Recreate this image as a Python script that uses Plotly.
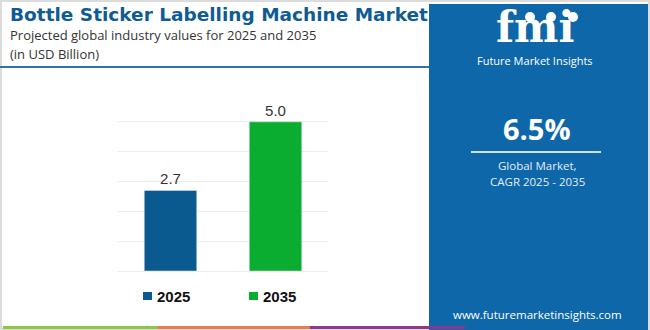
import plotly.graph_objects as go

# Market values (USD Billion)
years = ["2025", "2035"]
values = [2.7, 5.0]
bar_colors = ["#0b5a8f", "#0aad2f"]

title = "Bottle Sticker Labelling Machine Market"
subtitle = "Projected global industry values for 2025 and 2035"
unit_note = "(in USD Billion)"
cagr = "6.5%"
cagr_label = ["Global Market,", "CAGR 2025 - 2035"]
website = "www.futuremarketinsights.com"

W, H = 650, 330


def px(x):
    return x / W


def py(y):
    return 1 - y / H


fig = go.Figure()
for yr, val, col in zip(years, values, bar_colors):
    fig.add_trace(go.Bar(
        x=[yr], y=[val], name=yr, marker_color=col, width=0.5,
        text=[f"{val:.1f}"], textposition="outside", cliponaxis=False,
        textfont=dict(family="Liberation Sans, Arial", size=15, color="#333333"),
        showlegend=False,
    ))

shapes = []
annotations = []


def note(x, y, text, size, color, family="Open Sans", anchor="center"):
    annotations.append(dict(x=px(x), y=py(y), xref="paper", yref="paper", text=text,
                            showarrow=False, xanchor=anchor, yanchor="middle", borderpad=0,
                            font=dict(family=family, size=size, color=color)))


# outer frame
shapes.append(dict(type="rect", xref="paper", yref="paper", x0=px(1), x1=px(649),
                   y0=py(329), y1=py(1), line=dict(color="#dcdcdc", width=2), layer="below"))

# right-hand brand panel
shapes.append(dict(type="rect", xref="paper", yref="paper", x0=px(429), x1=px(648),
                   y0=0, y1=py(4), fillcolor="#0e67a8", line=dict(width=0), layer="below"))

# header rule
shapes.append(dict(type="line", xref="paper", yref="paper", x0=0, x1=px(429),
                   y0=py(67), y1=py(67), line=dict(color="#2f73ab", width=2)))

# bottom colour strip
for x0, x1, c in [(3, 158, "#8dc63f"), (158, 310, "#ef7b4b"), (310, 465, "#8a3a8e")]:
    shapes.append(dict(type="line", xref="paper", yref="paper", x0=px(x0), x1=px(x1),
                       y0=py(327.5), y1=py(327.5), line=dict(color=c, width=3)))

# CAGR rule
shapes.append(dict(type="line", xref="paper", yref="paper", x0=px(471), x1=px(601),
                   y0=py(152), y1=py(152), line=dict(color="#cfe2f1", width=2)))

# logo globes
for cx in [530, 551, 573]:
    shapes.append(dict(type="circle", xref="paper", yref="paper",
                       x0=px(cx - 5), x1=px(cx + 5), y0=py(22), y1=py(12),
                       fillcolor="white", line=dict(width=0)))

# legend
leg_x = [143, 249]
for lx, yr, col in zip(leg_x, years, bar_colors):
    shapes.append(dict(type="rect", xref="paper", yref="paper", x0=px(lx), x1=px(lx + 9),
                       y0=py(300), y1=py(292), fillcolor=col, line=dict(width=0)))
    note(lx + 13, 296.5, f"<b>{yr}</b>", 15, "#111111", "Liberation Sans, Arial", "left")

# header text
note(9, 14, f"<b>{title}</b>", 18.5, "#0f5b94", "DejaVu Sans", anchor="left")
note(9, 35.5, subtitle, 13, "#333333", anchor="left")
note(9, 53.5, unit_note, 13, "#333333", anchor="left")

# logo text
note(535, 28, "<b>fmi</b>", 42, "white", "DejaVu Serif")
note(535, 61, "Future Market Insights", 11, "white")

# CAGR block
note(537, 128, f"<b>{cagr}</b>", 29, "white")
for i, line in enumerate(cagr_label):
    note(537, 165 + 16 * i, line, 11.5, "#e3eef7")
note(537, 314, website, 11.5, "white")

fig.update_layout(
    width=W, height=H,
    margin=dict(l=0, r=0, t=0, b=0),
    paper_bgcolor="white", plot_bgcolor="white",
    bargap=0.5,
    xaxis=dict(domain=[px(118), px(328)], range=[-0.5, 1.5], showticklabels=False,
               showgrid=False, zeroline=False, showline=False, ticks=""),
    yaxis=dict(domain=[py(271), py(92)], range=[0, 6], dtick=1, showticklabels=False,
               showgrid=True, gridcolor="#ededed", gridwidth=1, zeroline=True,
               zerolinecolor="#ededed", zerolinewidth=1, showline=False, ticks=""),
    shapes=shapes,
    annotations=annotations,
)

fig.write_html("out.html")
